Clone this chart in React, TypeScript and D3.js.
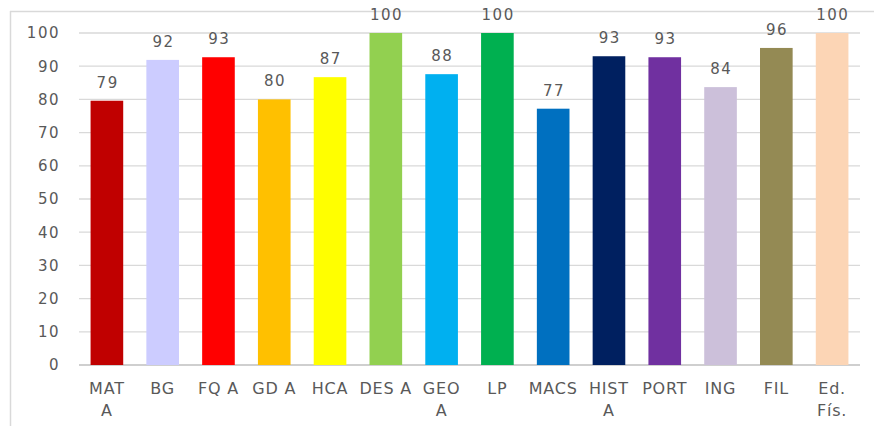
import React from "react";
import * as d3 from "d3";

const categories = ["MAT A", "BG", "FQ A", "GD A", "HCA", "DES A", "GEO A", "LP", "MACS", "HIST A", "PORT", "ING", "FIL", "Ed. Fís."];
const categoryLines = [["MAT", "A"], ["BG"], ["FQ A"], ["GD A"], ["HCA"], ["DES A"], ["GEO", "A"], ["LP"], ["MACS"], ["HIST", "A"], ["PORT"], ["ING"], ["FIL"], ["Ed.", "Fís."]];
const values = [79.6, 91.9, 92.7, 80.0, 86.7, 100, 87.6, 100, 77.2, 93.0, 92.7, 83.7, 95.5, 100];
const valueLabels = ["79", "92", "93", "80", "87", "100", "88", "100", "77", "93", "93", "84", "96", "100"];
const colors = ["#C00000", "#CCCCFF", "#FF0000", "#FFC000", "#FFFF00", "#92D050", "#00B0F0", "#00B050", "#0070C0", "#002060", "#7030A0", "#CCC0DA", "#948A54", "#FCD5B5"];
const yTicks = [0, 10, 20, 30, 40, 50, 60, 70, 80, 90, 100];

const W = 874, H = 426;
const left = 79, right = 860, top = 33, bottom = 365;
const font = "'DejaVu Sans', sans-serif";
const textColor = "#595959";

export default function App() {
  const x = d3.scaleBand<string>().domain(categories).range([left, right]).paddingInner(0.415).paddingOuter(0.2075);
  const y = d3.scaleLinear().domain([0, 100]).range([bottom, top]);
  return (
    <svg width={W} height={H} style={{ position: "absolute", left: 0, top: 0, background: "#fff" }}>
      <line x1={10} x2={W} y1={11.5} y2={11.5} stroke="#d9d9d9" strokeWidth={1.5} />
      <line x1={10.5} x2={10.5} y1={11} y2={H} stroke="#d9d9d9" strokeWidth={1.5} />
      {yTicks.map((t) => (
        <g key={t}>
          <line x1={left} x2={right} y1={y(t)} y2={y(t)} stroke={t === 0 ? "#bfbfbf" : "#d9d9d9"} strokeWidth={1.3} />
          <text x={60} y={y(t)} dy="0.36em" textAnchor="end" fontFamily={font} fontSize={15} fill={textColor} letterSpacing={1.5}>{t}</text>
        </g>
      ))}
      {categories.map((c, i) => (
        <rect key={c} x={x(c)} y={y(values[i])} width={x.bandwidth()} height={y(0) - y(values[i])} fill={colors[i]} />
      ))}
      {categories.map((c, i) => (
        <text key={c} x={(x(c) as number) + x.bandwidth() / 2 + 0.75} y={y(values[i]) - 13} textAnchor="middle" fontFamily={font} fontSize={15} fill={textColor} letterSpacing={1.5}>{valueLabels[i]}</text>
      ))}
      {categories.map((c, i) => (
        <text key={c} x={(x(c) as number) + x.bandwidth() / 2} y={394} textAnchor="middle" fontFamily={font} fontSize={16} fill={textColor} letterSpacing={0.8}>
          {categoryLines[i].map((l, j) => (
            <tspan key={j} x={(x(c) as number) + x.bandwidth() / 2} dy={j === 0 ? 0 : 22}>{l}</tspan>
          ))}
        </text>
      ))}
    </svg>
  );
}
